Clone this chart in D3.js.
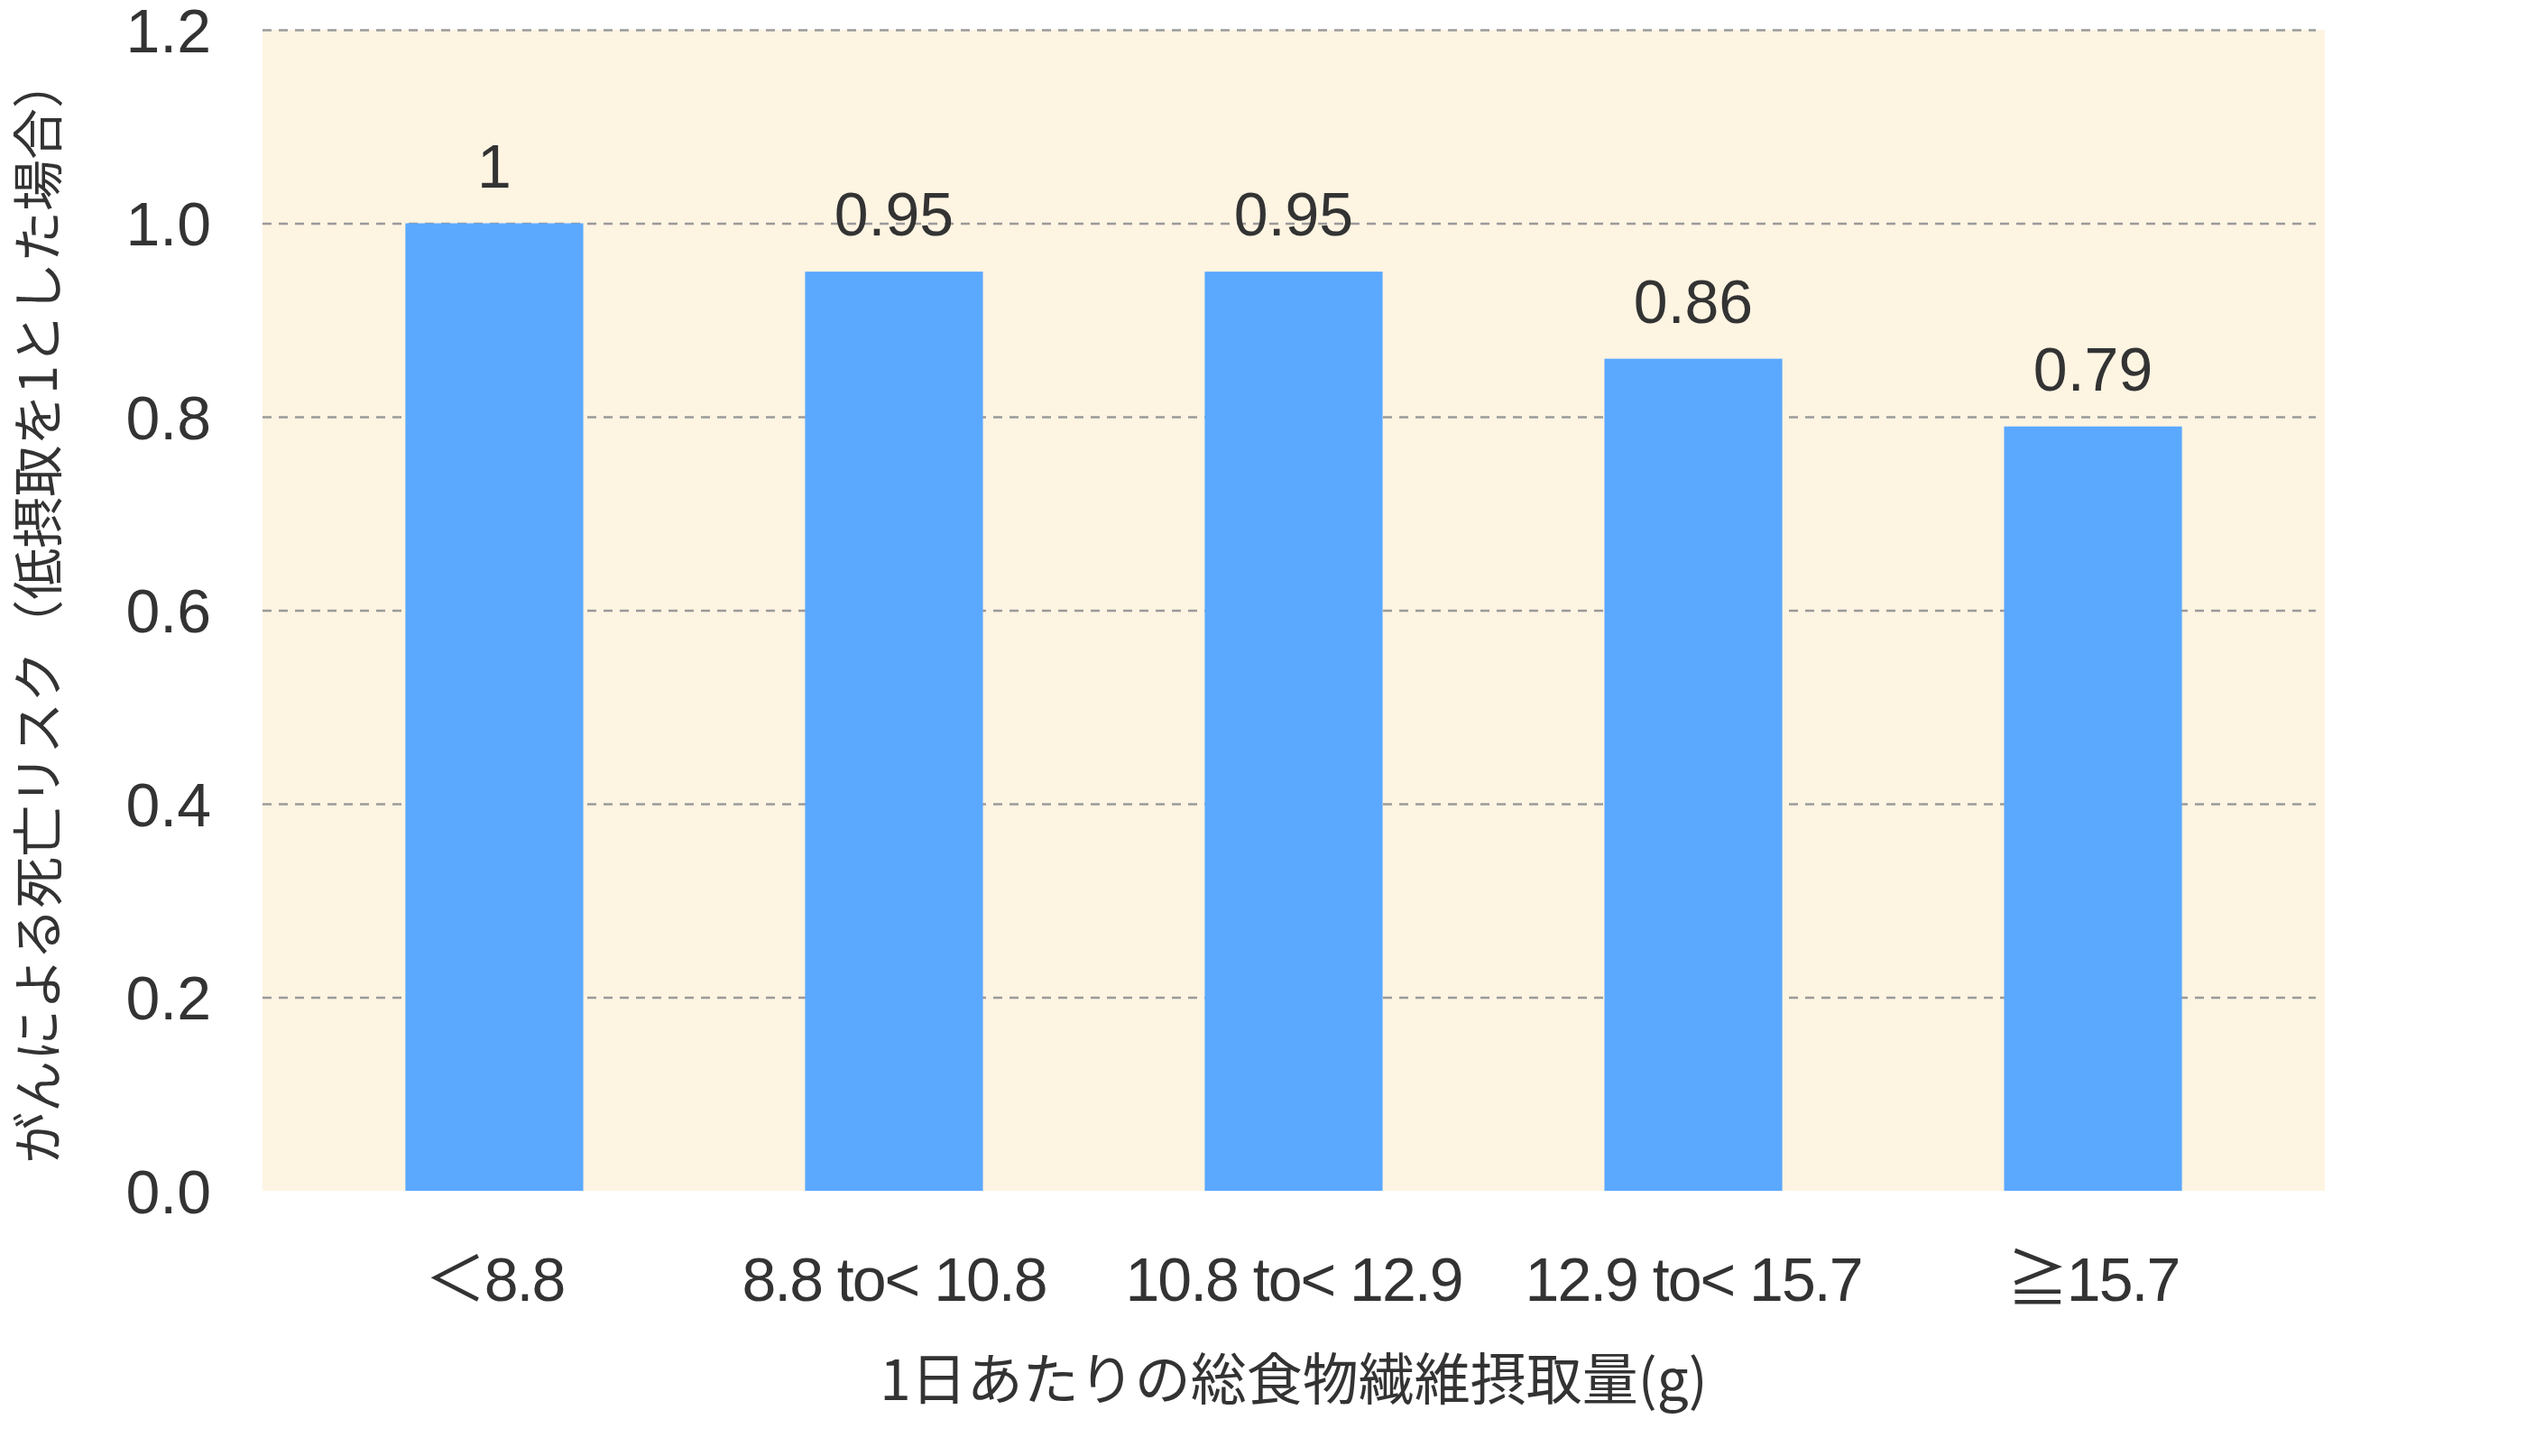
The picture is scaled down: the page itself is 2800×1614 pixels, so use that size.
<!DOCTYPE html>
<html>
<head>
<meta charset="utf-8">
<script src="https://cdn.jsdelivr.net/npm/d3@7"></script>
<style>
  body { margin: 0; background: #fff; }
  text { fill: #333; }
</style>
</head>
<body>
<svg width="2800" height="1614"></svg>
<script>
// categories and values
const categories = ["＜8.8", "8.8 to< 10.8", "10.8 to< 12.9", "12.9 to< 15.7", "≧15.7"];
const values = [1, 0.95, 0.95, 0.86, 0.79];
const valueLabels = ["1", "0.95", "0.95", "0.86", "0.79"];
const yTicks = [0, 0.2, 0.4, 0.6, 0.8, 1.0, 1.2];
const xTitle = "1日あたりの総食物繊維摂取量(g)";
const yTitle = "がんによる死亡リスク（低摂取を1とした場合）";

const svg = d3.select("svg"),
  margin = { top: 33, right: 223, bottom: 294, left: 291 },
  width = svg.attr("width") - margin.left - margin.right,
  height = svg.attr("height") - margin.top - margin.bottom;

const font = "'Liberation Sans', 'Noto Sans CJK JP', sans-serif";

const x = d3.scaleBand()
  .domain(categories)
  .range([0, width])
  .paddingInner(0.555)
  .paddingOuter(0.3575);

const y = d3.scaleLinear().domain([0, 1.2]).range([height, 0]);

const g = svg.append("g")
  .attr("transform", "translate(" + margin.left + "," + margin.top + ")");

// beige plot background
g.append("rect")
  .attr("width", width)
  .attr("height", height)
  .attr("fill", "#fef4e2");

// dashed gridlines (not at zero)
g.append("g")
  .attr("class", "grid")
  .call(d3.axisLeft(y).tickValues(yTicks.filter(d => d > 0)).tickSize(-width + 10).tickFormat(""))
  .call(s => s.select(".domain").remove())
  .call(s => s.selectAll("line")
    .attr("stroke", "#9a9a9a")
    .attr("stroke-width", 2.5)
    .attr("stroke-dasharray", "10,8"));

// bars
g.selectAll(".bar")
  .data(values)
  .enter()
  .append("rect")
  .attr("class", "bar")
  .attr("x", (d, i) => x(categories[i]))
  .attr("width", x.bandwidth())
  .attr("y", d => y(d))
  .attr("height", d => height - y(d))
  .attr("fill", "#5ba8ff");

// value labels
g.selectAll(".val")
  .data(values)
  .enter()
  .append("text")
  .attr("class", "val")
  .attr("x", (d, i) => x(categories[i]) + x.bandwidth() / 2)
  .attr("y", d => y(d) - 40)
  .attr("text-anchor", "middle")
  .style("font", "68px " + font)
  .text((d, i) => valueLabels[i]);

// y axis labels
g.append("g")
  .call(d3.axisLeft(y).tickValues(yTicks).tickSize(0).tickPadding(57).tickFormat(d3.format(".1f")))
  .call(s => s.select(".domain").remove())
  .call(s => s.selectAll("text")
    .attr("dy", "0.36em")
    .style("font", "68px " + font)
    .attr("fill", "#333"));

// x axis labels
g.append("g")
  .attr("transform", "translate(0," + height + ")")
  .call(d3.axisBottom(x).tickSize(0))
  .call(s => s.select(".domain").remove())
  .call(s => s.selectAll("text")
    .attr("y", 122)
    .attr("dy", null)
    .style("font", "68px " + font)
    .style("letter-spacing", "-2px")
    .attr("fill", "#333"));

// axis titles
svg.append("text")
  .attr("x", margin.left + width / 2)
  .attr("y", 1552)
  .attr("text-anchor", "middle")
  .style("font", "62px 'Noto Sans CJK JP', sans-serif")
  .text(xTitle);

svg.append("text")
  .attr("transform", "translate(38," + (margin.top + height / 2) + ") rotate(-90)")
  .attr("text-anchor", "middle")
  .attr("dominant-baseline", "central")
  .style("font", "57px 'Noto Sans CJK JP', sans-serif")
  .text(yTitle);
</script>
</body>
</html>
